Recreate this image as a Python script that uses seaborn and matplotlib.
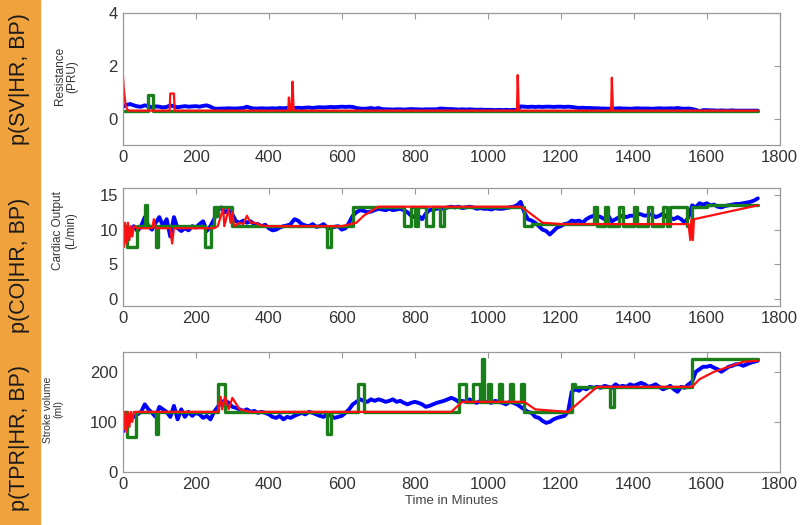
import numpy as np
import pandas as pd
import matplotlib
matplotlib.use("Agg")
import matplotlib.pyplot as plt
import seaborn as sns
from matplotlib.patches import Rectangle

# time grid of the measured (blue) signal, one sample every 10 minutes
minutes = np.arange(0, 1750, 10)

# ---- panel 1: resistance (PRU)
res_blue = [0.45, 0.52, 0.55, 0.5, 0.46, 0.45, 0.5, 0.47, 0.42, 0.46,
            0.45, 0.42, 0.44, 0.5, 0.46, 0.43, 0.45, 0.47, 0.45, 0.46,
            0.47, 0.45, 0.48, 0.5, 0.45, 0.38, 0.37, 0.38, 0.38, 0.39,
            0.38, 0.38, 0.39, 0.4, 0.45, 0.4, 0.38, 0.38, 0.39, 0.38,
            0.38, 0.39, 0.38, 0.4, 0.39, 0.4, 0.42, 0.4, 0.41, 0.4,
            0.41, 0.42, 0.4, 0.42, 0.43, 0.42, 0.43, 0.44, 0.43, 0.44,
            0.45, 0.44, 0.45, 0.44, 0.4, 0.38, 0.37, 0.38, 0.4, 0.37,
            0.4, 0.36, 0.35, 0.35, 0.34, 0.35, 0.35, 0.34, 0.35, 0.36,
            0.35, 0.35, 0.34, 0.35, 0.35, 0.35, 0.35, 0.38, 0.37, 0.36,
            0.36, 0.35, 0.34, 0.35, 0.34, 0.35, 0.34, 0.33, 0.34, 0.33,
            0.33, 0.33, 0.32, 0.33, 0.32, 0.33, 0.32, 0.33, 0.32, 0.46,
            0.45, 0.44, 0.45, 0.44, 0.45, 0.44, 0.45, 0.45, 0.44, 0.45,
            0.45, 0.44, 0.45, 0.44, 0.42, 0.4, 0.41, 0.4, 0.4, 0.39,
            0.39, 0.38, 0.38, 0.37, 0.38, 0.38, 0.39, 0.38, 0.38, 0.37,
            0.38, 0.39, 0.38, 0.38, 0.38, 0.37, 0.38, 0.39, 0.38, 0.38,
            0.39, 0.38, 0.4, 0.38, 0.37, 0.38, 0.36, 0.33, 0.28, 0.32,
            0.32, 0.31, 0.31, 0.3, 0.31, 0.3, 0.3, 0.31, 0.3, 0.3,
            0.3, 0.3, 0.3, 0.3, 0.3]
res_red_t = [0, 2, 8, 15, 128, 130, 140, 142, 453, 455, 458, 462, 465, 468,
             1080, 1082, 1085, 1338, 1340, 1343, 1740]
res_red_v = [1.7, 1.2, 0.45, 0.3, 0.3, 0.95, 0.95, 0.3, 0.3, 0.8, 0.3, 0.3, 1.4, 0.3,
             0.3, 1.65, 0.3, 0.3, 1.55, 0.3, 0.3]
res_green_t = [0, 70, 82, 1740]
res_green_v = [0.3, 0.9, 0.3, 0.3]

# ---- panel 2: cardiac output (L/min)
co_blue = [9.5, 8.5, 9.5, 10.5, 9.8, 10.5, 11.8, 10.5, 10, 11,
           11.8, 10.5, 11.5, 9, 11.8, 10.2, 9.8, 10.2, 9.9, 10.5,
           10.3, 10.8, 11.2, 9.8, 10.5, 11.5, 12.8, 13.2, 12.5, 12.8,
           12.2, 11.2, 11, 11.3, 11, 11.2, 10.8, 10.8, 10.5, 10.7,
           10.2, 9.9, 10, 10.3, 10.5, 10.6, 10.8, 11.5, 11.3, 10.8,
           10.6, 10.5, 10.8, 10.4, 10.5, 10.8, 10.3, 10.2, 10.4, 10.5,
           10, 10.2, 11, 12, 12.5, 12.8, 12.7, 12.5, 12.6, 12.8,
           13, 12.9, 12.8, 13, 12.8, 12.9, 13, 12.8, 12.5, 12,
           11.8, 12, 11.5, 12.3, 12.8, 12.9, 13, 13.1, 13, 13.2,
           13.3, 13.2, 13.3, 13.1, 13.2, 13.3, 13.2, 13, 13.1, 13,
           13, 12.9, 13.1, 13, 13, 13.1, 13.2, 13.3, 13.5, 14,
           12.5, 11.5, 11.3, 11, 10.5, 10, 9.8, 9.3, 9.8, 10.3,
           10.5, 10.8, 10.9, 11.3, 11.2, 11.3, 11, 11.5, 11.8, 12,
           12, 11.8, 11.5, 12, 11.2, 11.5, 11.8, 12, 11.8, 12,
           12, 12.3, 12.2, 12, 12.1, 12.2, 11.8, 12, 12.3, 11.8,
           11.7, 11.5, 11.8, 11.5, 11, 11.8, 13.5, 13.2, 13.8, 13.6,
           13.8, 13.5, 13.6, 13.3, 13.2, 13.4, 13.5, 13.6, 13.7, 13.7,
           13.8, 13.9, 14, 14.2, 14.5]
co_red_t = [0, 3, 6, 10, 14, 18, 22, 26, 30, 40,
            80, 85, 90, 130, 135, 140, 250, 260, 275, 278,
            290, 295, 300, 305, 320, 330, 340, 350, 360, 380,
            400, 600, 640, 660, 700, 1090, 1100, 1150, 1200, 1550,
            1555, 1558, 1562, 1565, 1740]
co_red_v = [11, 7.5, 11, 8, 11, 8.5, 10.5, 9, 10.5, 10.2,
            10.2, 11.5, 10.2, 10.2, 8, 10.2, 10.2, 10.5, 13, 10.5,
            13, 11, 12.5, 10.5, 11, 10.8, 12, 11, 11, 10.6,
            10.5, 10.5, 11, 12, 13.3, 13.3, 13, 11, 10.8, 10.8,
            8.5, 11.5, 8.5, 11.5, 13.5]
co_green_t = [0, 10, 40, 60, 66, 90, 96, 225, 242, 250,
              258, 262, 300, 560, 570, 630, 770, 790, 800, 810,
              830, 850, 870, 880, 900, 1100, 1120, 1290, 1300, 1320,
              1330, 1360, 1370, 1400, 1410, 1440, 1450, 1480, 1490, 1500,
              1545, 1560, 1600, 1740]
co_green_v = [10.5, 7.5, 10.5, 13.5, 10.5, 7.5, 10.5, 7.5, 10.5, 13.3,
              12, 13.3, 10.5, 7.5, 10.5, 13.3, 10.5, 13.3, 10.5, 13.3,
              10.5, 13.3, 10.5, 13.3, 13.3, 10.5, 10.8, 13.3, 10.5, 13.3,
              10.5, 13.3, 10.5, 13.3, 10.5, 13.3, 10.5, 13.3, 10.5, 13.3,
              10.5, 13.3, 13.5, 13.5]

# ---- panel 3: stroke volume (ml)
sv_blue = [80, 105, 112, 110, 115, 120, 135, 125, 118, 110,
           130, 125, 120, 110, 132, 105, 125, 110, 120, 112,
           118, 115, 108, 112, 105, 120, 130, 140, 142, 138,
           130, 128, 125, 122, 125, 120, 122, 118, 120, 118,
           115, 110, 108, 112, 105, 110, 108, 112, 115, 118,
           115, 120, 118, 115, 112, 110, 115, 112, 108, 110,
           112, 118, 125, 135, 140, 145, 142, 140, 145, 142,
           145, 143, 140, 142, 145, 140, 142, 138, 135, 138,
           140, 138, 135, 130, 132, 135, 138, 140, 142, 145,
           148, 145, 140, 142, 140, 145, 140, 138, 142, 140,
           140, 138, 142, 140, 138, 135, 140, 138, 135, 130,
           125, 120, 118, 110, 108, 102, 98, 100, 105, 108,
           110, 112, 120, 160, 165, 162, 168, 165, 170, 168,
           170, 168, 172, 170, 168, 175, 170, 172, 170, 175,
           172, 175, 178, 175, 170, 172, 175, 170, 165, 168,
           172, 165, 160, 170, 168, 175, 180, 200, 205, 210,
           210, 212, 208, 205, 200, 205, 210, 212, 215, 215,
           212, 215, 218, 220, 222]
sv_red_t = [0, 3, 6, 10, 14, 18, 22, 26, 30, 40,
            260, 268, 272, 280, 290, 300, 320, 350, 900, 930,
            1100, 1130, 1220, 1300, 1560, 1580, 1620, 1700, 1740]
sv_red_v = [120, 85, 120, 80, 120, 90, 120, 100, 120, 120,
            120, 150, 125, 150, 125, 148, 125, 120, 120, 140,
            140, 125, 120, 170, 170, 185, 200, 220, 222]
sv_green_t = [0, 10, 35, 90, 97, 260, 280, 560, 570, 645,
              662, 920, 940, 960, 980, 985, 990, 1000, 1010, 1030,
              1040, 1060, 1070, 1090, 1100, 1230, 1240, 1335, 1345, 1560,
              1575, 1740]
sv_green_v = [120, 70, 120, 75, 120, 175, 120, 75, 120, 175,
              120, 175, 140, 175, 140, 225, 140, 175, 140, 175,
              140, 175, 140, 175, 120, 175, 170, 130, 170, 225,
              225, 225]

side_labels = ["p(SV|HR, BP)", "p(CO|HR, BP)", "p(TPR|HR, BP)"]
y_labels = ["Resistance\n(PRU)", "Cardiac Output\n(L/min)", "Stroke volume\n(ml)"]

sns.set_style("white")
plt.rcParams["font.family"] = ["Liberation Sans", "DejaVu Sans"]

fig = plt.figure(figsize=(8.03, 5.25), dpi=100)

# orange strip on the left
fig.patches.append(Rectangle((0, 0), 40 / 803, 1, transform=fig.transFigure,
                             color="#f0a23c", zorder=0))

# axes boxes (left, bottom, width, height)
boxes = [(0.153, 0.724, 0.818, 0.251),
         (0.153, 0.417, 0.818, 0.225),
         (0.153, 0.101, 0.818, 0.229)]
ylims = [(-1, 4), (-1, 16), (0, 240)]
yticks = [[0, 2, 4], [0, 5, 10, 15], [0, 100, 200]]
label_pos = [(-0.068, 0.52), (-0.07, 0.64), (-0.09, 0.52)]
label_size = [8.5, 8.5, 7.5]
side_y = [0.85, 0.495, 0.165]

series = [
    (res_blue, res_red_t, res_red_v, res_green_t, res_green_v),
    (co_blue, co_red_t, co_red_v, co_green_t, co_green_v),
    (sv_blue, sv_red_t, sv_red_v, sv_green_t, sv_green_v),
]

for i, (blue, rt, rv, gt, gv) in enumerate(series):
    ax = fig.add_axes(boxes[i])
    sns.lineplot(x=minutes, y=blue, ax=ax, color="#0000ff", lw=2.8,
                 estimator=None, sort=False)
    sns.lineplot(x=gt, y=gv, ax=ax, color="#1a7f1a", lw=2.4,
                 estimator=None, sort=False, drawstyle="steps-post")
    sns.lineplot(x=rt, y=rv, ax=ax, color="#ff1010", lw=1.6,
                 estimator=None, sort=False)
    ax.set_xlim(0, 1800)
    ax.set_ylim(*ylims[i])
    ax.set_xticks(range(0, 1801, 200))
    ax.set_yticks(yticks[i])
    ax.tick_params(direction="in", top=True, right=True, length=4,
                   labelsize=12, colors="#999999", labelcolor="#333333")
    for sp in ax.spines.values():
        sp.set_color("#999999")
        sp.set_linewidth(0.9)
    ax.set_ylabel(y_labels[i], fontsize=label_size[i], color="#333333",
                  linespacing=1.05)
    ax.yaxis.set_label_coords(*label_pos[i])
    fig.text(20 / 803, side_y[i], side_labels[i], rotation=90, ha="center",
             va="center", fontsize=15.5, color="#1a1a1a")
    if i == 2:
        ax.set_xlabel("Time in Minutes", fontsize=9.5, color="#444444", labelpad=2)

fig.savefig("out.png", dpi=100)
